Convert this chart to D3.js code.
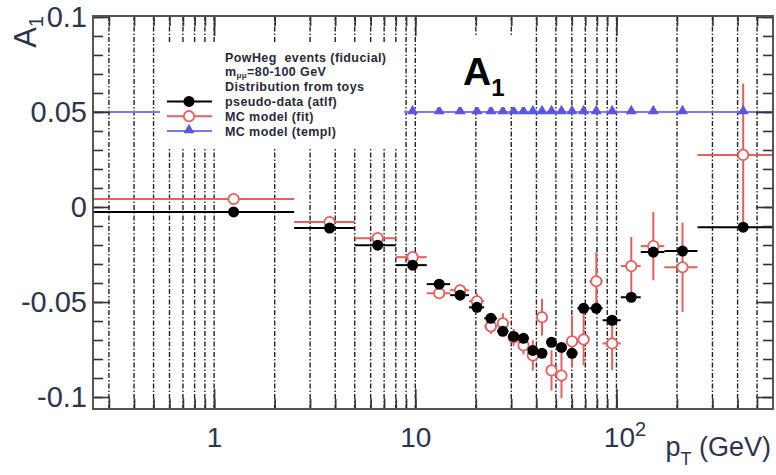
<!DOCTYPE html>
<html>
<head>
<meta charset="utf-8">
<script src="https://cdn.jsdelivr.net/npm/d3@7"></script>
<style>
	body { margin: 0; background: #fff; }
	svg { display: block; font-family: 'Liberation Sans', Arial, Helvetica, sans-serif; }
	.leg { white-space: pre; letter-spacing: 0.4px; }
</style>
</head>
<body>
<div id="chart"></div>
<script>

//pT bin edges (GeV), points sit at the linear bin centre
let binEdges = [0, 2.5, 5, 8, 11.4, 14.9, 18.5, 22, 25.5, 29, 32.6, 36.4, 40.4,
	44.9, 50.2, 56.4, 63.9, 73.4, 85.4, 105, 132, 173, 253, 600];

//pseudo-data (atlf)
let pseudoData = [-0.0026, -0.0111, -0.0201, -0.0306, -0.0406, -0.0464, -0.0528, -0.0586,
	-0.0654, -0.0681, -0.0691, -0.0755, -0.0770, -0.0712, -0.0739, -0.0770, -0.0533,
	-0.0533, -0.0596, -0.0475, -0.0237, -0.0232, -0.0106];
let pseudoErr = [0.001, 0.001, 0.001, 0.001, 0.001, 0.001, 0.001, 0.001, 0.001, 0.001, 0.001,
	0.001, 0.001, 0.001, 0.001, 0.001, 0.001, 0.001, 0.001, 0.001, 0.001, 0.001, 0.001];

//MC model (fit)
let fitModel = [0.0042, -0.0079, -0.0164, -0.0264, -0.0454, -0.0438, -0.0496, -0.0628,
	-0.0612, -0.0686, -0.0728, -0.0781, -0.0580, -0.0860, -0.0887, -0.0707, -0.0697,
	-0.0391, -0.0718, -0.0311, -0.0206, -0.0317, 0.0274];
let fitErr = [0.002, 0.002, 0.002, 0.002, 0.003, 0.003, 0.004, 0.004, 0.0053, 0.0045, 0.0048,
	0.008, 0.0097, 0.0106, 0.0119, 0.0135, 0.0135, 0.0153, 0.014, 0.0153, 0.018, 0.0235, 0.0375];

//MC model (templ)
let templModel = [0.05, 0.05, 0.05, 0.05, 0.05, 0.05, 0.05, 0.05, 0.05, 0.05, 0.05, 0.05,
	0.05, 0.05, 0.05, 0.05, 0.05, 0.05, 0.05, 0.05, 0.05, 0.05, 0.05];

let yTickValues = [-0.1, -0.05, 0, 0.05, 0.1];
let yTickLabels = ['-0.1', '-0.05', '0', '0.05', '0.1'];
let xTickValues = [1, 10, 100];
let xTickLabels = ['1', '10', '10^2'];
let legendHeader = ['PowHeg  events (fiducial)', 'm_μμ=80-100 GeV', 'Distribution from toys'];
let legendLabels = ['pseudo-data (atlf)', 'MC model (fit)', 'MC model (templ)'];

renderChart();


function makeBins(values, errors) {
	//one record per bin: edges, centre, value, error
	return values.map(function(v, i) {
		let lo = binEdges[i], hi = binEdges[i + 1];
		return { lo: lo, hi: hi, c: (lo + hi) / 2, v: v, e: errors ? errors[i] : 0 };
	});
}

function drawSeries(g, data, x, y, style) {
	let xmin = x.domain()[0];
	let s = g.append('g');
	//horizontal bars = bin width
	s.selectAll('line.h').data(data).enter().append('line')
		.attr('x1', d => x(Math.max(d.lo, xmin)))
		.attr('x2', d => x(d.hi))
		.attr('y1', d => y(d.v))
		.attr('y2', d => y(d.v))
		.attr('stroke', style.line)
		.attr('stroke-width', 2);
	//vertical error bars
	s.selectAll('line.v').data(data).enter().append('line')
		.attr('x1', d => x(d.c))
		.attr('x2', d => x(d.c))
		.attr('y1', d => y(d.v - d.e))
		.attr('y2', d => y(d.v + d.e))
		.attr('stroke', style.line)
		.attr('stroke-width', 2);
	drawMarkers(s, data.map(d => [x(d.c), y(d.v)]), style);
}

function drawMarkers(s, pts, style) {
	if (style.shape === 'triangle') {
		s.selectAll('path.m').data(pts).enter().append('path')
			.attr('d', d3.symbol().type(d3.symbolTriangle).size(52))
			.attr('transform', d => 'translate(' + d[0] + ',' + (d[1] - 1) + ')')
			.attr('fill', style.fill);
	} else {
		s.selectAll('circle.m').data(pts).enter().append('circle')
			.attr('cx', d => d[0])
			.attr('cy', d => d[1])
			.attr('r', style.r)
			.attr('fill', style.fill)
			.attr('stroke', style.stroke)
			.attr('stroke-width', style.sw);
	}
}

function renderChart() {
	let width = 776, height = 475;
	let frame = { left: 93, right: 773, top: 16, bottom: 409 };
	let labelColor = '#2e3350';

	let svg = d3.select('#chart').append('svg')
		.attr('width', width)
		.attr('height', height);

	let x = d3.scaleLog().domain([0.25, 600]).range([frame.left, frame.right]);
	let y = d3.scaleLinear().domain([-0.1063, 0.1005]).range([frame.bottom, frame.top]);

	//dashed vertical grid at every log tick
	let gridValues = x.ticks().filter(v => v < 550);
	svg.append('g').selectAll('line').data(gridValues).enter().append('line')
		.attr('x1', d => x(d)).attr('x2', d => x(d))
		.attr('y1', frame.top).attr('y2', frame.bottom)
		.attr('stroke', '#222')
		.attr('stroke-width', 1.4)
		.attr('stroke-dasharray', '5,2,1.5,2');

	//data series
	let styleFit = { line: '#e4605c', fill: '#fff', stroke: '#e4605c', r: 5.2, sw: 1.8 };
	let styleData = { line: '#000', fill: '#000', stroke: 'none', r: 5.5, sw: 0 };
	let styleTempl = { line: '#7a78ee', fill: '#5a56e0', shape: 'triangle' };
	drawSeries(svg, makeBins(fitModel, fitErr), x, y, styleFit);
	drawSeries(svg, makeBins(pseudoData, pseudoErr), x, y, styleData);
	drawSeries(svg, makeBins(templModel, null), x, y, styleTempl);

	//axes: left with labels, right/top/bottom ticks only
	let yMinor = y.ticks(20);
	let axisL = svg.append('g').attr('transform', 'translate(' + frame.left + ',0)');
	axisL.call(d3.axisLeft(y).tickValues(yMinor).tickSize(-10).tickFormat(''));
	axisL.append('g').call(d3.axisLeft(y).tickValues(yTickValues).tickSize(-17).tickPadding(6)
		.tickFormat((d, i) => yTickLabels[i]));
	let axisR = svg.append('g').attr('transform', 'translate(' + frame.right + ',0)');
	axisR.call(d3.axisRight(y).tickValues(yMinor).tickSize(-10).tickFormat(''));
	axisR.append('g').call(d3.axisRight(y).tickValues(yTickValues).tickSize(-17).tickFormat(''));

	let axisB = svg.append('g').attr('transform', 'translate(0,' + frame.bottom + ')');
	axisB.call(d3.axisBottom(x).tickValues(gridValues).tickSize(-10).tickFormat(''));
	let axisBMajor = axisB.append('g').call(d3.axisBottom(x).tickValues(xTickValues).tickSize(-20)
		.tickPadding(18).tickFormat(''));
	let axisT = svg.append('g').attr('transform', 'translate(0,' + frame.top + ')');
	axisT.call(d3.axisTop(x).tickValues(gridValues).tickSize(-10).tickFormat(''));
	axisT.append('g').call(d3.axisTop(x).tickValues(xTickValues).tickSize(-20).tickFormat(''));

	svg.selectAll('.domain').remove();
	svg.selectAll('.tick line').attr('stroke', '#333').attr('stroke-width', 1.6);
	axisL.selectAll('text')
		.attr('fill', labelColor)
		.attr('font-size', 29)
		.attr('font-family', null);

	//x labels with optional superscript
	axisBMajor.selectAll('.tick').each(function(d, i) {
		let parts = xTickLabels[i].split('^');
		let t = d3.select(this).append('text')
			.attr('y', 38)
			.attr('fill', labelColor)
			.attr('font-size', 28)
			.attr('text-anchor', 'middle')
			.text(parts[0]);
		if (parts.length > 1) {
			t.attr('x', 8);
			t.append('tspan').attr('dy', -11).attr('font-size', 20).text(parts[1]);
		}
	});

	//frame
	svg.append('rect')
		.attr('x', frame.left).attr('y', frame.top)
		.attr('width', frame.right - frame.left)
		.attr('height', frame.bottom - frame.top)
		.attr('fill', 'none')
		.attr('stroke', '#555')
		.attr('stroke-width', 2);

	//axis titles
	let yTitle = svg.append('text')
		.attr('transform', 'translate(36,16) rotate(-90)')
		.attr('text-anchor', 'end')
		.attr('fill', labelColor)
		.attr('font-size', 31)
		.text('A');
	yTitle.append('tspan').attr('dy', 7).attr('font-size', 20).text('1');

	let xTitle = svg.append('text')
		.attr('x', 771).attr('y', 456)
		.attr('text-anchor', 'end')
		.attr('fill', labelColor)
		.attr('font-size', 27)
		.text('p');
	xTitle.append('tspan').attr('dy', 9).attr('font-size', 18).text('T');
	xTitle.append('tspan').attr('dy', -9).text(' (GeV)');

	//legend (white pave covers grid and graphs)
	let legend = svg.append('g');
	legend.append('rect')
		.attr('x', 160).attr('y', 43).attr('width', 244).attr('height', 104)
		.attr('fill', '#fff');
	let rowY = d3.scaleLinear().domain([0, 5]).range([57, 131]);
	let textX = 225;
	legendHeader.forEach(function(s, i) {
		let t = legend.append('text')
			.attr('class', 'leg')
			.attr('x', textX).attr('y', rowY(i) + 4.5)
			.attr('font-size', 12.5).attr('font-weight', 'bold').attr('fill', '#2a2a3a');
		if (s.indexOf('_') > 0) {
			let p = s.split('_');
			t.text(p[0]);
			t.append('tspan').attr('dy', 2).attr('font-size', 8).text(p[1].slice(0, 2));
			t.append('tspan').attr('dy', -2).text(p[1].slice(2));
		} else {
			t.text(s);
		}
	});
	[styleData, styleFit, styleTempl].forEach(function(st, i) {
		let yy = rowY(i + 3);
		legend.append('line')
			.attr('x1', 167).attr('x2', 212).attr('y1', yy).attr('y2', yy)
			.attr('stroke', st.line).attr('stroke-width', 2);
		drawMarkers(legend.append('g'), [[189, yy]], st);
		legend.append('text')
			.attr('class', 'leg')
			.attr('x', textX).attr('y', yy + 4.5)
			.attr('font-size', 12.5).attr('font-weight', 'bold').attr('fill', '#2a2a3a')
			.text(legendLabels[i]);
	});

	//big A_1 label
	let pave = svg.append('g');
	pave.append('rect')
		.attr('x', 425).attr('y', 35).attr('width', 105).attr('height', 72)
		.attr('fill', '#fff');
	let a1 = pave.append('text')
		.attr('x', 463).attr('y', 85)
		.attr('font-size', 39).attr('font-weight', 'bold').attr('fill', '#000')
		.text('A');
	a1.append('tspan').attr('dy', 11).attr('font-size', 24).text('1');
}

</script>
</body>
</html>
